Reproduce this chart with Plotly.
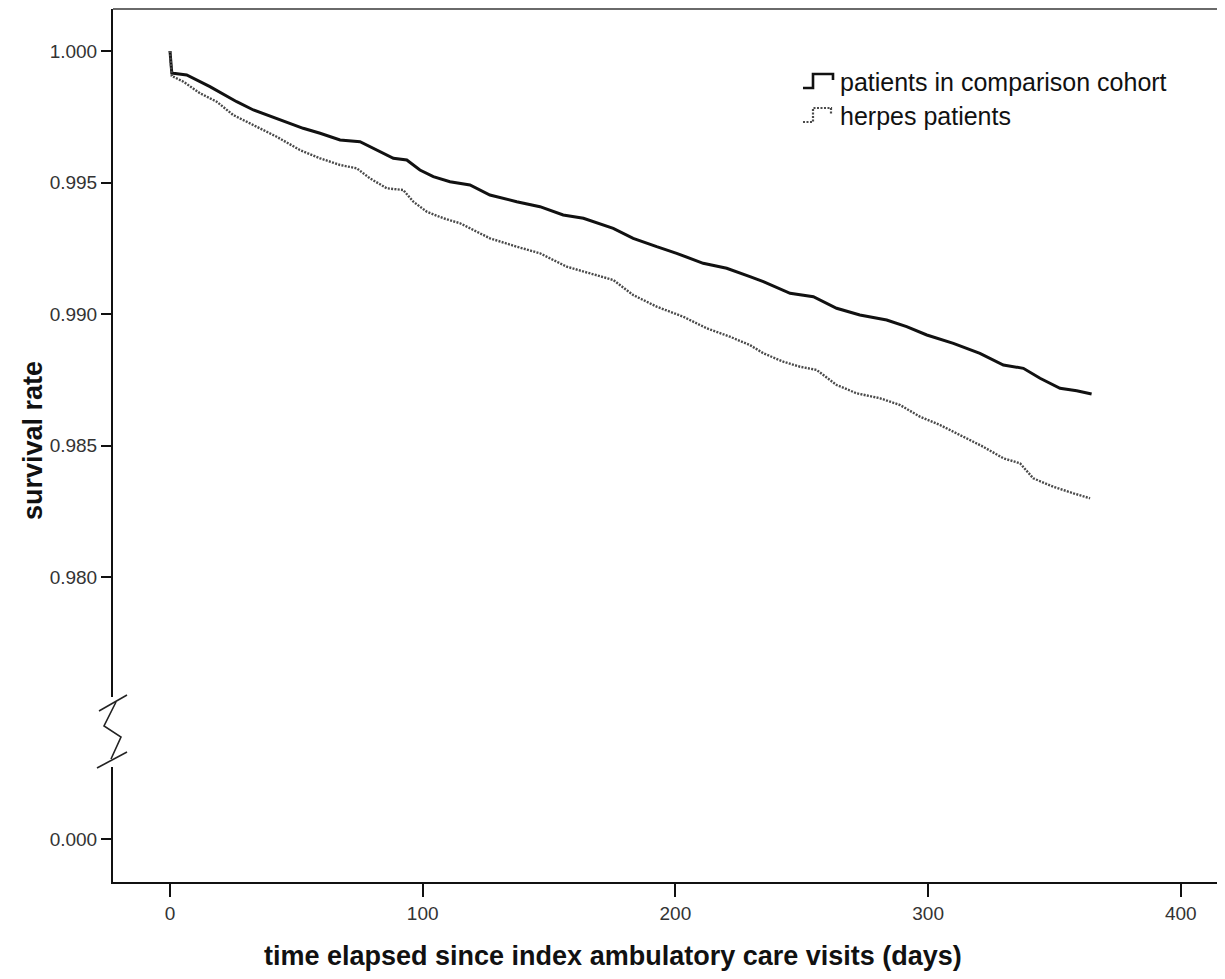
import plotly.graph_objects as go

# ---------------- data ----------------
comparison_days = [0, 0.7, 1.3, 6.6, 15.8, 26.4, 33.0, 42.2, 52.7, 59.4, 67.3, 75.2, 81.8, 88.4, 93.7,
                   98.9, 104.2, 110.8, 118.7, 126.6, 137.2, 146.4, 155.6, 163.6, 175.4, 183.3, 192.6,
                   200.5, 211.0, 220.3, 229.5, 234.8, 245.4, 254.6, 263.8, 273.0, 283.6, 291.5, 299.5,
                   310.0, 320.5, 329.8, 337.7, 344.3, 352.2, 358.8, 364.7]
comparison_surv = [1.0, 0.99917, 0.999152, 0.999087, 0.998643, 0.998072, 0.997757, 0.997441, 0.997061,
                   0.996871, 0.996616, 0.996551, 0.996236, 0.995920, 0.995856, 0.995475, 0.995221,
                   0.995030, 0.994905, 0.994525, 0.994270, 0.994080, 0.993764, 0.993639, 0.993259,
                   0.992878, 0.992559, 0.992308, 0.991928, 0.991738, 0.991418, 0.991228, 0.990787,
                   0.990658, 0.990217, 0.989962, 0.989772, 0.989517, 0.989202, 0.988886, 0.988506,
                   0.988061, 0.987935, 0.987555, 0.987175, 0.987084, 0.986958]

herpes_days = [0, 0.7, 1.3, 5.3, 11.9, 18.5, 25.0, 33.0, 42.2, 51.4, 59.4, 67.3, 73.9, 79.1, 85.8, 92.3,
               96.3, 101.6, 108.2, 114.8, 118.7, 126.6, 137.2, 146.4, 157.0, 166.2, 175.4, 183.3, 192.6,
               203.1, 212.4, 221.6, 229.5, 234.8, 242.7, 249.3, 255.9, 263.8, 271.7, 281.0, 288.9,
               296.8, 304.7, 313.9, 321.8, 329.8, 336.4, 341.6, 349.5, 357.5, 364.1]
herpes_surv = [1.0, 0.99905, 0.999023, 0.998833, 0.998392, 0.998072, 0.997567, 0.997186, 0.996741,
               0.996236, 0.995920, 0.995665, 0.995540, 0.995160, 0.994779, 0.994715, 0.994270,
               0.993890, 0.993639, 0.993449, 0.993259, 0.992878, 0.992559, 0.992308, 0.991798,
               0.991548, 0.991293, 0.990722, 0.990278, 0.989897, 0.989456, 0.989137, 0.988821,
               0.988506, 0.988186, 0.987996, 0.987871, 0.987300, 0.986985, 0.986795, 0.986540,
               0.986095, 0.985779, 0.985335, 0.984954, 0.984513, 0.984323, 0.983753, 0.983433,
               0.983183, 0.982992]

x_ticks = [0, 100, 200, 300, 400]
y_ticks_upper = [0.980, 0.985, 0.990, 0.995, 1.000]
y_ticks_lower = [0.0]
y_ticklabels_lower = ["0.000"]

series_names = ["patients in comparison cohort", "herpes patients"]
x_title = "time elapsed since index ambulatory care visits (days)"
y_title = "survival rate"

# ---------------- layout geometry (page pixels; the page body adds an 8px offset) ----------------
OFF = 8
W, H = 1225 - OFF, 979 - 2 * OFF
PLOT_LEFT, PLOT_TOP, PLOT_RIGHT, PLOT_BOTTOM = 113, 9, 1225, 882   # page pixels
L = PLOT_LEFT - OFF
T = PLOT_TOP - OFF
R = 1225 - PLOT_RIGHT
B = H - (PLOT_BOTTOM - OFF)
PW = PLOT_RIGHT - PLOT_LEFT
PH = PLOT_BOTTOM - PLOT_TOP


def px(xp):
    return (xp - PLOT_LEFT) / PW


def py(yp):
    return (PLOT_BOTTOM - yp) / PH


FONT = "Liberation Sans, Arial, sans-serif"
BLACK = "#111111"
GRAY = "#4a4a4a"

fig = go.Figure()
fig.add_trace(go.Scatter(x=comparison_days, y=comparison_surv, mode="lines",
                         line=dict(color=BLACK, width=3), name=series_names[0],
                         showlegend=False, xaxis="x", yaxis="y"))
fig.add_trace(go.Scatter(x=herpes_days, y=herpes_surv, mode="lines",
                         line=dict(color=GRAY, width=2.4, dash="2px,1.3px"), name=series_names[1],
                         showlegend=False, xaxis="x", yaxis="y"))
fig.add_trace(go.Scatter(x=[], y=[], mode="lines", showlegend=False, xaxis="x", yaxis="y2"))

tickfont = dict(family=FONT, size=19, color="#333333")


# upper y range: 1.000 at page y 51, 0.980 at page y 577
def yval(yp):
    return 1.0 - (yp - 51) * (0.02 / 526)


upper_dom_bottom = py(697)
lower_dom_top = py(767)
# lower axis: 0.000 at page y 839, same px scale
lower_lo = -(PLOT_BOTTOM - 839) * (0.02 / 526)
lower_hi = (839 - 767) * (0.02 / 526)

fig.update_layout(
    width=W, height=H,
    margin=dict(l=L, r=R, t=T, b=B, pad=0),
    paper_bgcolor="white", plot_bgcolor="white",
    xaxis=dict(domain=[0, 1], anchor="y2", range=[(113 - 170) / 2.527, (1225 - 170) / 2.527],
               tickvals=x_ticks,
               ticks="outside", ticklen=13, tickwidth=1.6, tickcolor=BLACK,
               showline=True, linecolor=BLACK, linewidth=2, showgrid=False, zeroline=False,
               tickfont=tickfont),
    yaxis=dict(domain=[upper_dom_bottom, 1], anchor="x", range=[yval(697), yval(PLOT_TOP)],
               tickvals=y_ticks_upper, tickformat=".3f",
               ticks="outside", ticklen=10, tickwidth=1.6, tickcolor=BLACK,
               showline=True, linecolor=BLACK, linewidth=2, showgrid=False, zeroline=False,
               tickfont=tickfont),
    yaxis2=dict(domain=[0, lower_dom_top], anchor="x", range=[lower_lo, lower_hi],
                tickvals=y_ticks_lower, ticktext=y_ticklabels_lower,
                ticks="outside", ticklen=10, tickwidth=1.6, tickcolor=BLACK,
                showline=True, linecolor=BLACK, linewidth=2, showgrid=False, zeroline=False,
                tickfont=tickfont),
)

shapes = []
# top frame line
shapes.append(dict(type="line", xref="paper", yref="paper", x0=0, x1=1, y0=1, y1=1,
                   line=dict(color="#6a6a6a", width=2)))


def path(points):
    return "M " + " L ".join(f"{px(a):.5f},{py(b):.5f}" for a, b in points)


# axis break marks
for pts in ([(99, 711), (127, 695)],
            [(116, 702), (104, 726), (121, 737), (111, 759)],
            [(97, 768), (127, 752)]):
    shapes.append(dict(type="path", xref="paper", yref="paper", path=path(pts),
                       line=dict(color="#222222", width=1.6)))

# legend icons (step glyphs)
LEG_Y = [82, 116]
icon1 = [(803, LEG_Y[0] + 6), (813, LEG_Y[0] + 6), (813, LEG_Y[0] - 8), (833, LEG_Y[0] - 8), (833, LEG_Y[0] - 2)]
icon2 = [(803, LEG_Y[1] + 6), (813, LEG_Y[1] + 6), (813, LEG_Y[1] - 8), (831, LEG_Y[1] - 8), (831, LEG_Y[1] - 2)]
shapes.append(dict(type="path", xref="paper", yref="paper", path=path(icon1),
                   line=dict(color=BLACK, width=2.6)))
shapes.append(dict(type="path", xref="paper", yref="paper", path=path(icon2),
                   line=dict(color=GRAY, width=2.2, dash="2px,1.5px")))
fig.update_layout(shapes=shapes)

annotations = []
for name, yy in zip(series_names, LEG_Y):
    annotations.append(dict(text=name, xref="paper", yref="paper", x=px(838), y=py(yy),
                            xanchor="left", yanchor="middle", showarrow=False,
                            font=dict(family=FONT, size=25, color="#111111")))
annotations.append(dict(text=f"<b>{x_title}</b>", xref="paper", yref="paper", x=px(613), y=py(956),
                        xanchor="center", yanchor="middle", showarrow=False,
                        font=dict(family=FONT, size=27, color="#111111")))
annotations.append(dict(text=f"<b>{y_title}</b>", xref="paper", yref="paper", x=px(33), y=py(441),
                        xanchor="center", yanchor="middle", showarrow=False, textangle=-90,
                        font=dict(family=FONT, size=27, color="#111111")))
fig.update_layout(annotations=annotations)

fig.write_html("out.html")
